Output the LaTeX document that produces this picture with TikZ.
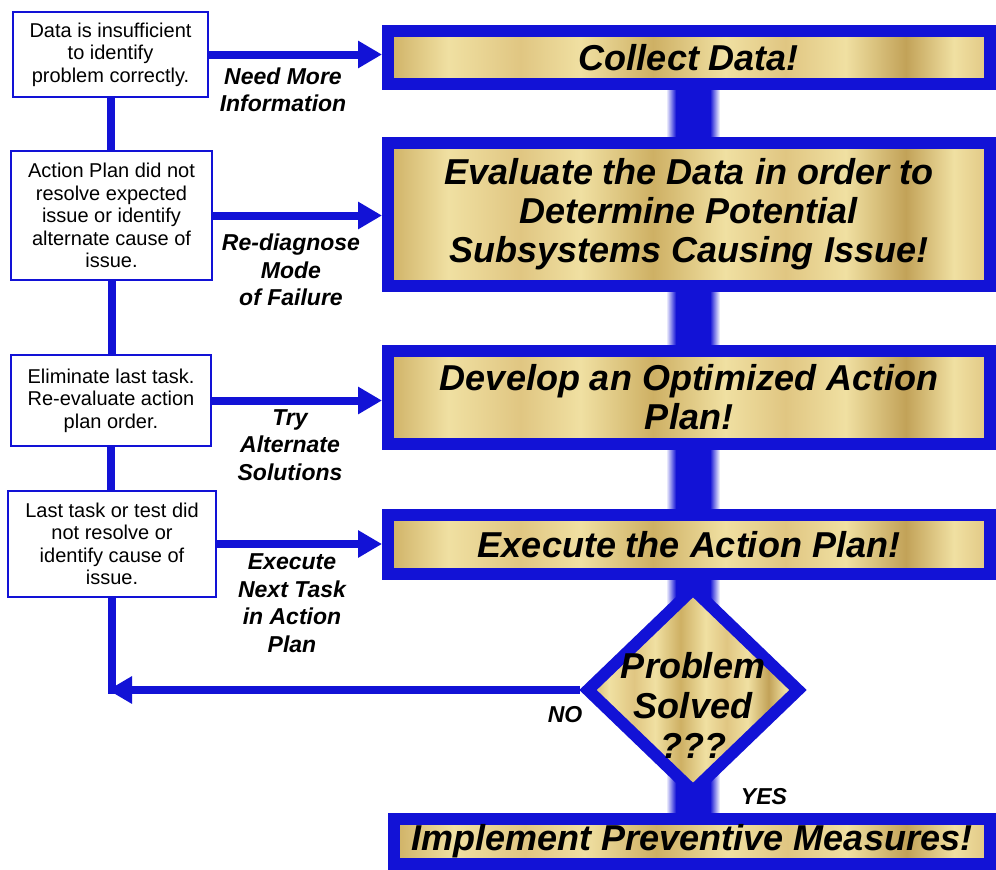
\documentclass[tikz,border=0pt]{standalone}
\usepackage{fontspec}
\setmainfont{Liberation Sans}
\usetikzlibrary{arrows.meta,shapes.geometric,calc}
\definecolor{myblue}{RGB}{18,18,214}
\definecolor{goldA}{RGB}{206,176,100}
\definecolor{goldB}{RGB}{240,224,162}
\definecolor{goldC}{RGB}{224,198,130}
\definecolor{goldD}{RGB}{194,162,88}
\pgfdeclarehorizontalshading{goldsh}{100bp}{color(0bp)=(goldA); color(25bp)=(goldA); color(30bp)=(goldB); color(36bp)=(goldC); color(41bp)=(goldB); color(47bp)=(goldA); color(53bp)=(goldB); color(58bp)=(goldC); color(63bp)=(goldB); color(68bp)=(goldD); color(72bp)=(goldB); color(75bp)=(goldC); color(100bp)=(goldC)}
\pgfdeclarelayer{bg}
\pgfsetlayers{bg,main}
\begin{document}
\begin{tikzpicture}[x=1pt,y=-1pt,
  leftbox/.style={draw=myblue, line width=1.5pt, fill=white, align=center, font=\fontsize{20}{22.5}\selectfont, inner sep=0pt},
  bigbox/.style={draw=myblue, line width=12pt, shading=goldsh, align=center, font=\fontsize{36}{39}\selectfont\bfseries\itshape, minimum width=602pt, inner sep=0pt,
    append after command={[draw=goldB!40!white, line width=1pt] ([xshift=12.3pt,yshift=-12.3pt]\tikzlastnode.north west) rectangle ([xshift=-12.3pt,yshift=12.3pt]\tikzlastnode.south east)}},
  bigtxt/.style={align=center, font=\fontsize{36}{40}\selectfont\bfseries\itshape, inner sep=0pt},
  lbl/.style={align=center, font=\fontsize{23}{27.5}\selectfont\bfseries\itshape, inner sep=0pt},
  flow/.style={myblue, line width=8pt, -{Triangle[length=24pt,width=26pt]}},
  vline/.style={myblue, line width=8pt}]
\useasboundingbox (0,0) rectangle (996,870);

% left boxes
\node[leftbox, minimum width=195pt, minimum height=85pt] (b1) at (110.5,54.5) {Data is insufficient\\to identify\\problem correctly.};
\node[leftbox, minimum width=201pt, minimum height=129pt] (b2) at (111.5,215.5) {Action Plan did not\\resolve expected\\issue or identify\\alternate cause of\\issue.};
\node[leftbox, minimum width=200pt, minimum height=91pt] (b3) at (111,400.5) {Eliminate last task.\\Re-evaluate action\\plan order.};
\node[leftbox, minimum width=208pt, minimum height=106pt] (b4) at (112,544) {Last task or test did\\not resolve or\\identify cause of\\issue.};

% right boxes
\node[bigbox, minimum height=53pt] (collect) at (689,57.5) {Collect Data!};
\node[bigbox, minimum height=143pt] (eval) at (689,214.5) {Evaluate the Data in order to\\Determine Potential\\Subsystems Causing Issue!};
\node[bigbox, minimum height=93pt] (dev) at (689,397.5) {Develop an Optimized Action\\Plan!};
\node[bigbox, minimum height=59pt] (exec) at (689,544.5) {Execute the Action Plan!};
\node[bigbox, minimum width=596pt, minimum height=45pt] (impl) at (692,841.5) {Implement Preventive Measures!};

% decision
\node[diamond, draw=myblue, line width=12pt, shading=goldsh, minimum width=0pt, minimum height=0pt, inner sep=52.73pt, aspect=1.0386] (dia) at (693,690) {};
\node[bigtxt] (diat) at (693,705) {Problem\\Solved\\???};

% labels
\node[lbl] (l1) at (283,90) {Need More\\Information};
\node[lbl] (l2) at (291,270) {Re-diagnose\\Mode\\of Failure};
\node[lbl] (l3) at (290,445) {Try\\Alternate\\Solutions};
\node[lbl] (l4) at (292,603) {Execute\\Next Task\\in Action\\Plan};
\node[lbl] (no) at (565,715) {NO};
\node[lbl] (yes) at (764,797) {YES};

% connectors
\draw[flow] (b1.east) -- (b1.east -| collect.west);
\draw[flow] (b2.east) -- (b2.east -| eval.west);
\draw[flow] (b3.east) -- (b3.east -| dev.west);
\draw[flow] (b4.east) -- (b4.east -| exec.west);
\draw[vline] (b1.south) -- (b1.south |- b2.north);
\draw[vline] (b2.south) -- (b2.south |- b3.north);
\draw[vline] (b3.south) -- (b3.south |- b4.north);
\coordinate (corner) at (b4.south |- dia.west);
\draw[vline] (b4.south) -- ($(corner)+(0,4)$);
\draw[flow] (dia.west) -- ($(corner)+(-4,0)$);

% background and central bar
\begin{pgfonlayer}{bg}
\fill[white] (0,0) rectangle (996,870);
\coordinate (bt) at (collect.south -| dia.north);
\coordinate (bb) at (impl.north -| dia.north);
\fill[myblue] ($(bt)+(-17,0)$) rectangle ($(bb)+(17,0)$);
\shade[left color=white, right color=myblue] ($(bt)+(-27,0)$) rectangle ($(bb)+(-17,0)$);
\shade[left color=myblue, right color=white] ($(bt)+(17,0)$) rectangle ($(bb)+(27,0)$);
\end{pgfonlayer}
\end{tikzpicture}
\end{document}
